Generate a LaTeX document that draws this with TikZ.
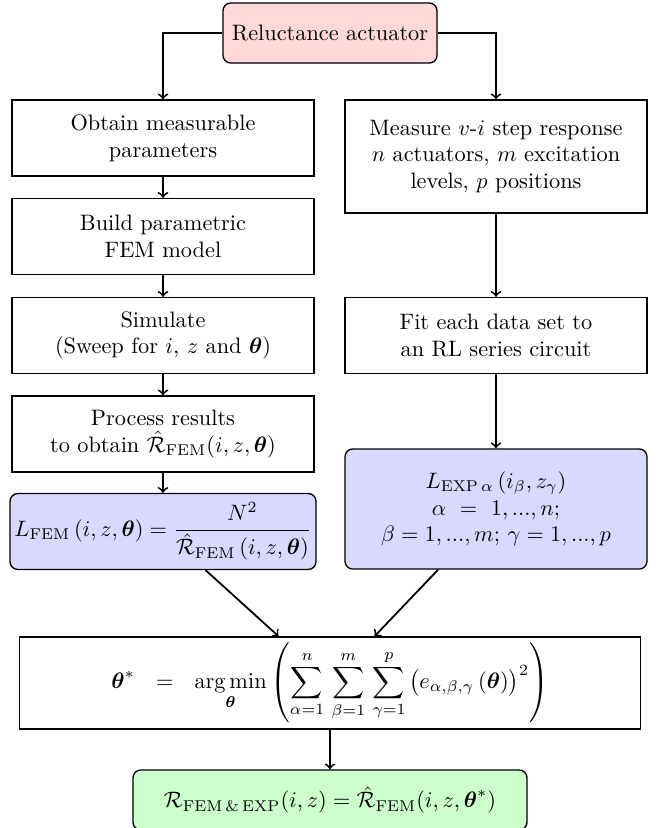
\documentclass[tikz,border=0pt]{standalone}
\usepackage{amsmath}
\usepackage{amssymb}
\usepackage{tikz}
\usetikzlibrary{arrows,%
		calc,%
		positioning}

\tikzset{
  block/.style={draw, semithick, align=center, inner sep=2pt,
                minimum width=135.3pt, minimum height=34pt},
  roundblock/.style={block, rounded corners=3.5pt, fill=blue!15},
  conn/.style={->, thick}
}

\begin{document}
\begin{tikzpicture}[x=0.448pt,y=-0.448pt]
\useasboundingbox (0,0) rectangle (663,828);

\node[block, rounded corners=3.5pt, fill=red!15, minimum width=95.9pt, minimum height=26.9pt] (reluct) at (330,33) {Reluctance actuator};

% FEM branch
\node[block] (obtain) at (163,138) {Obtain measurable\\parameters};
\node[block] (build) at (163,236.5) {Build parametric\\FEM model};
\node[block] (simul) at (163,335.5) {Simulate\\(Sweep for $i$, $z$ and $\boldsymbol{\theta}$)};
\node[block] (process) at (163,434) {Process results\\to obtain $\hat{\mathcal{R}}_{\mathrm{FEM}}(i,z,\boldsymbol{\theta})$};
\node[roundblock] (lfem) at (163,531.5) {$L_{\mathrm{FEM}}\left(i,z,\boldsymbol{\theta}\right) = \dfrac{N^2}{\hat{\mathcal{R}}_{\mathrm{FEM}}\left(i,z,\boldsymbol{\theta}\right)}$};

% measurement branch
\node[block, minimum height=50.6pt] (measure) at (496,156.5) {Measure $v$-$i$ step response\\$n$ actuators, $m$ excitation\\levels, $p$ positions};
\node[block] (fit) at (496,335.5) {Fit each data set to\\an RL series circuit};
\node[roundblock, minimum height=53.8pt] (lexp) at (496,509) {$L_{\mathrm{EXP}\,\alpha}\left(i_{\beta},z_{\gamma}\right)$\\$\alpha\ =\ 1,...,n;$\\$\beta=1,...,m;\,\gamma=1,...,p$};

% fitting
\node[block, minimum width=278.2pt, minimum height=41.2pt] (optim) at (330,683) {$\displaystyle \boldsymbol{\theta}^{*}\ \ =\ \ \mathop{\arg\min}\limits_{\boldsymbol{\theta}} \left(\sum_{\alpha=1}^{n}\,\sum_{\beta=1}^{m}\,\sum_{\gamma=1}^{p}\,\bigl(e_{\alpha,\beta,\gamma}\left(\boldsymbol{\theta}\right)\bigr)^{2}\right)$};
\node[block, rounded corners=3.5pt, fill=green!20, minimum width=176.5pt, minimum height=26.9pt] (result) at (330,800) {$\mathcal{R}_{\mathrm{FEM\,\&\,EXP}}(i,z) = \hat{\mathcal{R}}_{\mathrm{FEM}}(i,z,\boldsymbol{\theta}^{*})$};

\draw[conn] (reluct.west) -| (obtain.north);
\draw[conn] (reluct.east) -| (measure.north);
\draw[conn] (obtain) -- (build);
\draw[conn] (build) -- (simul);
\draw[conn] (simul) -- (process);
\draw[conn] (process) -- (lfem);
\draw[conn] (measure) -- (fit);
\draw[conn] (fit) -- (lexp);
\draw[conn] (lfem) -- (optim);
\draw[conn] (lexp) -- (optim);
\draw[conn] (optim) -- (result);
\end{tikzpicture}
\end{document}
